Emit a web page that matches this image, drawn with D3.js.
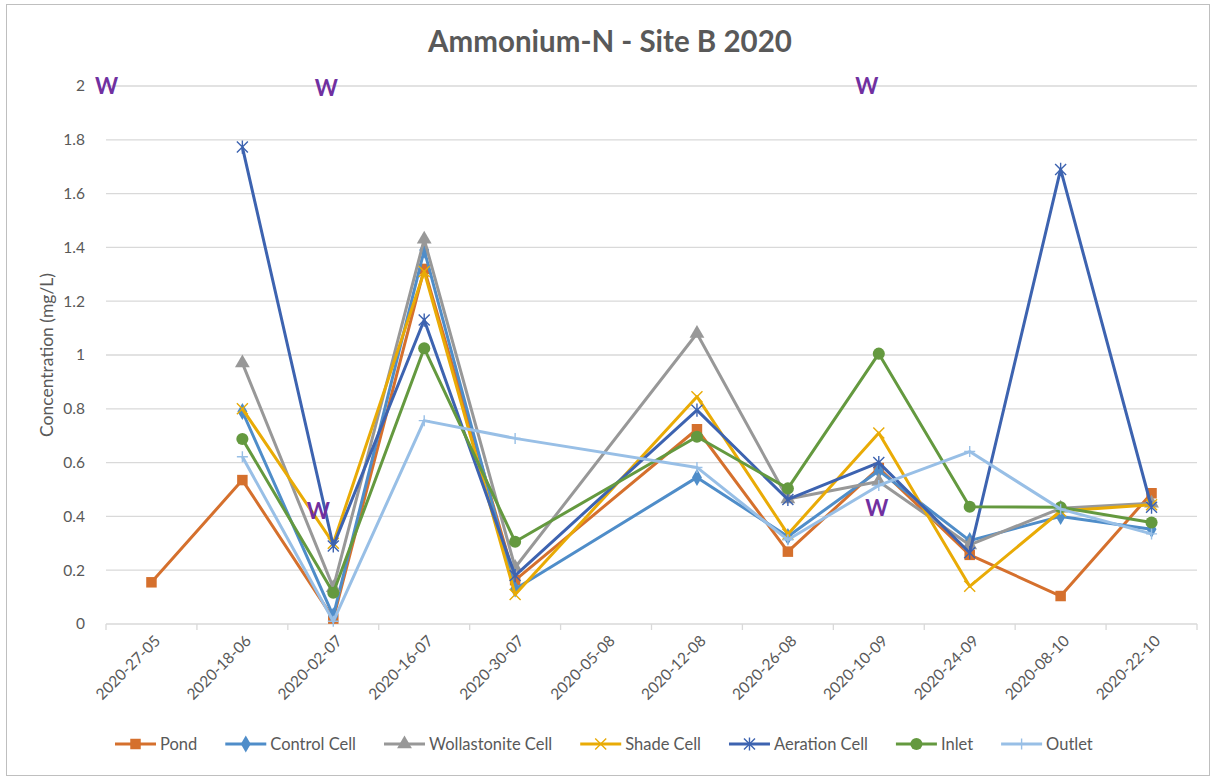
<!DOCTYPE html>
<html>
<head>
<meta charset="utf-8">
<script src="https://cdn.jsdelivr.net/npm/d3@7"></script>
<style>
  body { margin: 0; background: #fff; }
  svg { font-family: Lato, "Open Sans", sans-serif; }
</style>
</head>
<body>
<script>
"use strict";

// sample dates (category axis)
var dates = ["2020-27-05", "2020-18-06", "2020-02-07", "2020-16-07", "2020-30-07", "2020-05-08",
             "2020-12-08", "2020-26-08", "2020-10-09", "2020-24-09", "2020-08-10", "2020-22-10"];

// concentrations, mg/L (null = no sample)
var pond         = [0.155, 0.535, 0.02,  1.32,  0.163, null, 0.724, 0.269, 0.58,  0.257, 0.104, 0.486];
var controlCell  = [null,  0.79,  0.03,  1.39,  0.13,  null, 0.545, 0.325, 0.57,  0.31,  0.40,  0.352];
var wollastonite = [null,  0.97,  0.135, 1.43,  0.21,  null, 1.08,  0.465, 0.53,  0.294, 0.43,  0.449];
var shadeCell    = [null,  0.80,  0.30,  1.31,  0.11,  null, 0.845, 0.334, 0.71,  0.14,  0.42,  0.443];
var aeration     = [null,  1.773, 0.29,  1.13,  0.18,  null, 0.795, 0.463, 0.60,  0.265, 1.69,  0.434];
var inlet        = [null,  0.688, 0.116, 1.025, 0.306, null, 0.696, 0.504, 1.005, 0.436, 0.434, 0.377];
var outlet       = [null,  0.622, 0.01,  0.756, 0.69,  null, 0.582, 0.313, 0.515, 0.641, 0.427, 0.335];

var seriesNames  = ["Pond", "Control Cell", "Wollastonite Cell", "Shade Cell", "Aeration Cell", "Inlet", "Outlet"];
var seriesValues = [pond, controlCell, wollastonite, shadeCell, aeration, inlet, outlet];
var seriesColors = ["#d5702d", "#4f8dc9", "#989898", "#e9ab06", "#3d63b0", "#64993f", "#98bfe6"];
var seriesMarks  = ["square", "diamond", "triangle", "x", "star", "circle", "plus"];

var yTicks = [0, 0.2, 0.4, 0.6, 0.8, 1, 1.2, 1.4, 1.6, 1.8, 2];

// "W" notes: date, value, pixel nudge
var wNotes = [
    { date: "2020-27-05", value: 2.0,  dx: -45 },
    { date: "2020-02-07", value: 1.99, dx: -7 },
    { date: "2020-10-09", value: 2.0,  dx: -12 },
    { date: "2020-02-07", value: 0.42, dx: -15 },
    { date: "2020-10-09", value: 0.43, dx: -2 }
];

var WIDTH = 1214, HEIGHT = 777;
var PLOT = { LEFT: 106, RIGHT: 1197, TOP: 86, BOTTOM: 624 };
var TEXT = "#595959", GRID = "#d9d9d9";

var svg = d3.select("body").append("svg")
            .attr("width", WIDTH)
            .attr("height", HEIGHT);

// chart border
svg.append("rect")
   .attr("x", 6.5).attr("y", 4.5)
   .attr("width", 1203).attr("height", 771)
   .attr("fill", "#fff")
   .attr("stroke", "#bfbfbf");

var x = d3.scaleBand().domain(dates).range([PLOT.LEFT, PLOT.RIGHT]);
var y = d3.scaleLinear().domain([0, 2]).range([PLOT.BOTTOM, PLOT.TOP]);
var cx = function(d) { return x(d) + x.bandwidth() / 2; };

// title
svg.append("text")
   .attr("x", 610).attr("y", 52)
   .attr("text-anchor", "middle")
   .attr("font-size", 29.5).attr("font-weight", "bold")
   .attr("fill", TEXT)
   .text("Ammonium-N - Site B 2020");

// gridlines
svg.append("g").selectAll("line")
   .data(yTicks.filter(function(t) { return t > 0; }))
   .enter().append("line")
   .attr("x1", PLOT.LEFT).attr("x2", PLOT.RIGHT)
   .attr("y1", function(d) { return y(d); })
   .attr("y2", function(d) { return y(d); })
   .attr("stroke", GRID).attr("stroke-width", 1.3);

// y axis labels
var yAxis = svg.append("g")
               .attr("transform", "translate(" + (PLOT.LEFT - 18) + ",0)")
               .call(d3.axisLeft(y).tickValues(yTicks).tickSize(0).tickFormat(d3.format("~g")));
yAxis.select(".domain").remove();
yAxis.selectAll("text").attr("font-size", 15.5).attr("fill", TEXT).attr("font-family", "Lato");

svg.append("text")
   .attr("transform", "translate(53," + ((PLOT.TOP + PLOT.BOTTOM) / 2) + ") rotate(-90)")
   .attr("text-anchor", "middle")
   .attr("font-size", 17.5)
   .attr("fill", TEXT)
   .text("Concentration (mg/L)");

// x axis line and ticks at category boundaries
var xAxis = svg.append("g").attr("transform", "translate(0," + PLOT.BOTTOM + ")");
xAxis.append("line")
     .attr("x1", PLOT.LEFT).attr("x2", PLOT.RIGHT)
     .attr("stroke", GRID).attr("stroke-width", 1.3);
xAxis.selectAll(".tick")
     .data(dates.concat(["end"]))
     .enter().append("line")
     .attr("x1", function(d, i) { return i < dates.length ? x(d) : PLOT.RIGHT; })
     .attr("x2", function(d, i) { return i < dates.length ? x(d) : PLOT.RIGHT; })
     .attr("y1", 0).attr("y2", 6)
     .attr("stroke", GRID).attr("stroke-width", 1.3);
xAxis.selectAll("text")
     .data(dates)
     .enter().append("text")
     .attr("transform", function(d) { return "translate(" + (cx(d) + 6) + ",14) rotate(-45)"; })
     .attr("text-anchor", "end")
     .attr("dy", "0.35em")
     .attr("font-size", 15.5)
     .attr("fill", TEXT)
     .text(function(d) { return d; });

// marker drawing
var drawMarker = function(g, type, color)
{
    if (type == "x" || type == "star" || type == "plus")
    {
        var r = 5.5, p;
        if (type == "x") p = "M" + -r + "," + -r + "L" + r + "," + r + "M" + -r + "," + r + "L" + r + "," + -r;
        else if (type == "plus") p = "M" + -r + ",0L" + r + ",0M0," + -r + "L0," + r;
        else p = "M" + -r + "," + -r + "L" + r + "," + r + "M" + -r + "," + r + "L" + r + "," + -r + "M0," + (-r * 1.2) + "L0," + (r * 1.2);
        g.append("path").attr("d", p).attr("fill", "none").attr("stroke", color).attr("stroke-width", 1.4);
    }
    else
    {
        var sym = { square: d3.symbolSquare, diamond: d3.symbolDiamond, triangle: d3.symbolTriangle, circle: d3.symbolCircle }[type];
        var size = { square: 110, diamond: 85, triangle: 95, circle: 115 }[type];
        g.append("path").attr("d", d3.symbol().type(sym).size(size)()).attr("fill", color);
    }
};

// series lines (gaps are bridged, as in the source chart)
var line = d3.line()
             .x(function(d) { return cx(d.date); })
             .y(function(d) { return y(d.value); });

var series = seriesNames.map(function(name, i)
{
    var pts = [];
    for (var j = 0; j < dates.length; j++)
        if (seriesValues[i][j] != null) pts.push({ date: dates[j], value: seriesValues[i][j] });
    return { name: name, points: pts, color: seriesColors[i], mark: seriesMarks[i] };
});

var plot = svg.append("g");
series.forEach(function(s)
{
    var g = plot.append("g");
    g.append("path")
     .datum(s.points)
     .attr("d", line)
     .attr("fill", "none")
     .attr("stroke", s.color)
     .attr("stroke-width", 3)
     .attr("stroke-linejoin", "round");
    g.selectAll(".m")
     .data(s.points)
     .enter().append("g")
     .attr("transform", function(d) { return "translate(" + cx(d.date) + "," + y(d.value) + ")"; })
     .each(function() { drawMarker(d3.select(this), s.mark, s.color); });
});

// W notes
svg.append("g").selectAll("text")
   .data(wNotes)
   .enter().append("text")
   .attr("x", function(d) { return cx(d.date) + d.dx; })
   .attr("y", function(d) { return y(d.value); })
   .attr("dy", "0.35em")
   .attr("text-anchor", "middle")
   .attr("font-size", 22).attr("font-weight", "bold")
   .attr("fill", "#7030a0")
   .text("W");

// legend
var legend = svg.append("g").attr("transform", "translate(0,744)");
var lx = 115;
series.forEach(function(s)
{
    var item = legend.append("g").attr("transform", "translate(" + lx + ",0)");
    item.append("line").attr("x1", 0).attr("x2", 41)
        .attr("stroke", s.color).attr("stroke-width", 3);
    drawMarker(item.append("g").attr("transform", "translate(20.5,0)"), s.mark, s.color);
    var t = item.append("text")
                .attr("x", 45).attr("dy", "0.35em")
                .attr("font-size", 16.5).attr("fill", TEXT)
                .text(s.name);
    lx += 45 + t.node().getComputedTextLength() + 28;
});
</script>
</body>
</html>
